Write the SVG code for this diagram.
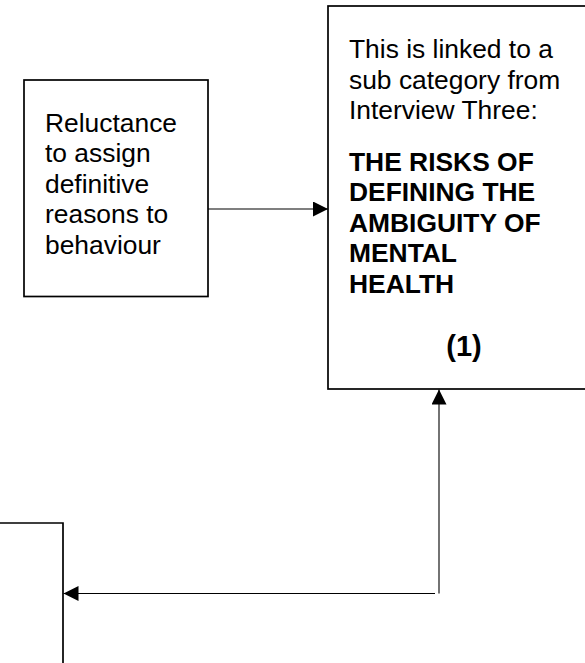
<svg xmlns="http://www.w3.org/2000/svg" width="585" height="663" viewBox="0 0 585 663">
  <style>
    .box { fill: #ffffff; stroke: #000000; stroke-width: 1.7; }
    .edge { fill: none; stroke: #000000; stroke-width: 1.1; }
    .txt { font-family: "Liberation Sans", Arial, sans-serif; font-size: 26.4px; fill: #000000; }
    .bold { font-weight: bold; }
    .num { font-size: 29px; }
  </style>
  <defs>
    <marker id="arrow" markerUnits="userSpaceOnUse" markerWidth="15" markerHeight="15" refX="15" refY="7.5" orient="auto">
      <path d="M0,0 L15,7.5 L0,15 Z" fill="#000000"/>
    </marker>
  </defs>

  <rect width="585" height="663" fill="#ffffff"/>

  <!-- reluctance box -->
  <g id="node-reluctance">
    <rect class="box" x="24" y="80" width="184" height="216.5"/>
    <text class="txt" x="45" y="131.5">Reluctance</text>
    <text class="txt" x="45" y="162">to assign</text>
    <text class="txt" x="45" y="192.5">definitive</text>
    <text class="txt" x="45" y="223">reasons to</text>
    <text class="txt" x="45" y="253.5">behaviour</text>
  </g>

  <!-- linked sub category box -->
  <g id="node-subcategory">
    <rect class="box" x="328" y="6" width="300" height="383"/>
    <text class="txt" x="349" y="58">This is linked to a</text>
    <text class="txt" x="349" y="88.5">sub category from</text>
    <text class="txt" x="349" y="118.5">Interview Three:</text>
    <text class="txt bold" x="349" y="170.5">THE RISKS OF</text>
    <text class="txt bold" x="349" y="201">DEFINING THE</text>
    <text class="txt bold" x="349" y="231.5">AMBIGUITY OF</text>
    <text class="txt bold" x="349" y="262">MENTAL</text>
    <text class="txt bold" x="349" y="292.5">HEALTH</text>
    <text class="txt bold num" x="464" y="356" text-anchor="middle">(1)</text>
  </g>

  <!-- partially visible box, bottom left -->
  <g id="node-lower">
    <path class="box" d="M-5,523 H63 V670" fill="none"/>
  </g>

  <!-- connectors -->
  <g id="connectors">
    <path class="edge" d="M208,209 H328" marker-end="url(#arrow)"/>
    <path class="edge" d="M439,593.5 V389.5" marker-end="url(#arrow)"/>
    <path class="edge" d="M435,593.5 H63.5" marker-end="url(#arrow)"/>
  </g>
</svg>
